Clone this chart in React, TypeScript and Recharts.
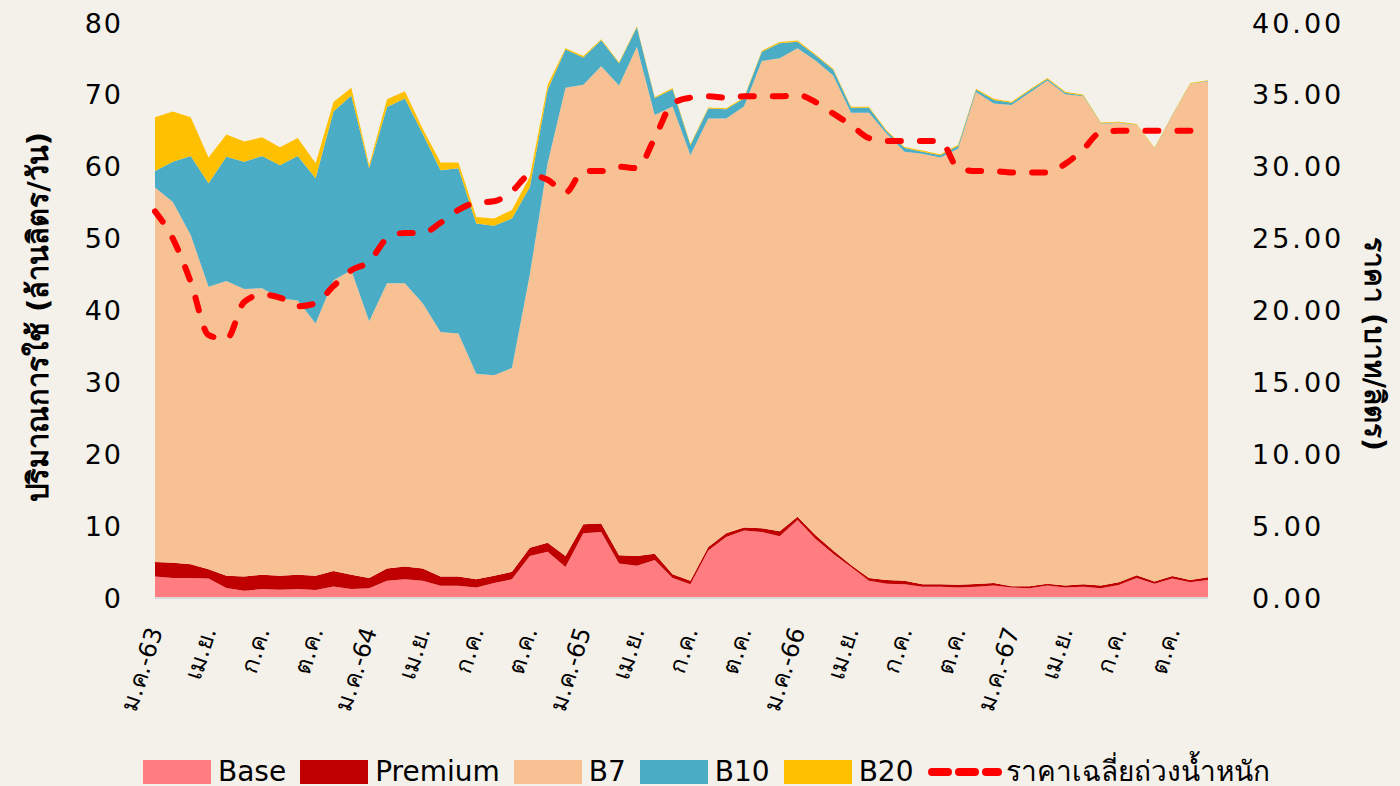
import { Area, ComposedChart, Line, XAxis, YAxis } from "recharts";

const MONTHS = ["ม.ค.", "ก.พ.", "มี.ค.", "เม.ย.", "พ.ค.", "มิ.ย.", "ก.ค.", "ส.ค.", "ก.ย.", "ต.ค.", "พ.ย.", "ธ.ค."];
const YEARS = ["63", "64", "65", "66", "67"];

// ล้านลิตร/วัน
const base = [
  3.0, 2.8, 2.8, 2.7, 1.4, 1.0, 1.25, 1.15, 1.25, 1.1,
  1.6, 1.25, 1.35, 2.4, 2.6, 2.4, 1.7, 1.7, 1.45, 2.1,
  2.6, 5.85, 6.45, 4.3, 9.0, 9.2, 4.8, 4.5, 5.3, 2.8,
  1.9, 6.6, 8.5, 9.4, 9.2, 8.6, 10.85, 8.25, 6.15, 4.3,
  2.4, 2.0, 1.9, 1.55, 1.55, 1.45, 1.55, 1.75, 1.45, 1.35,
  1.75, 1.45, 1.55, 1.35, 1.8, 2.8, 2.0, 2.7, 2.2, 2.5,
];
const premium = [
  2.0, 2.1, 1.9, 1.3, 1.7, 2.0, 2.0, 1.95, 2.0, 2.0,
  2.15, 2.0, 1.45, 1.7, 1.8, 1.7, 1.3, 1.3, 1.15, 1.0,
  1.05, 1.15, 1.25, 1.55, 1.25, 1.15, 1.15, 1.35, 0.85, 0.5,
  0.5, 0.5, 0.5, 0.4, 0.5, 0.7, 0.45, 0.5, 0.45, 0.3,
  0.4, 0.5, 0.5, 0.35, 0.35, 0.4, 0.4, 0.35, 0.2, 0.3,
  0.25, 0.3, 0.35, 0.4, 0.4, 0.35, 0.3, 0.35, 0.3, 0.4,
];
const b7 = [
  52.1, 50.2, 45.8, 39.3, 41.0, 40.0, 39.85, 38.6, 38.15, 35.1,
  40.45, 42.35, 35.7, 39.7, 39.4, 36.9, 34.0, 33.8, 28.6, 27.9,
  28.35, 38.0, 52.8, 65.15, 61.15, 63.65, 65.35, 70.85, 61.05, 65.1,
  59.2, 59.6, 57.7, 58.6, 65.0, 65.8, 65.2, 66.05, 66.1, 62.9,
  64.7, 62.1, 59.7, 59.9, 59.4, 60.65, 68.45, 66.7, 66.95, 68.65,
  70.0, 68.35, 67.9, 64.25, 63.9, 62.65, 60.2, 64.05, 69.0, 69.0,
];
const b10 = [
  2.3, 5.6, 11.0, 14.4, 17.3, 17.7, 18.4, 18.5, 20.1, 20.2,
  23.5, 24.3, 21.3, 24.5, 25.7, 23.6, 22.5, 23.0, 20.9, 20.8,
  20.8, 12.2, 10.2, 5.3, 3.8, 3.6, 3.1, 2.7, 2.35, 2.4,
  1.4, 1.4, 1.3, 1.1, 1.3, 2.1, 0.9, 0.7, 0.8, 0.7,
  0.7, 0.3, 0.5, 0.3, 0.3, 0.4, 0.3, 0.5, 0.3, 0.3,
  0.2, 0.2, 0.1, 0.05, 0.05, 0.05, 0.05, 0.05, 0.05, 0.05,
];
const b20 = [
  7.5, 7.0, 5.4, 3.6, 3.1, 2.8, 2.6, 2.5, 2.5, 2.1,
  1.3, 1.1, 0.4, 1.1, 1.0, 0.7, 1.1, 0.8, 0.9, 1.0,
  1.2, 1.4, 0.7, 0.2, 0.2, 0.15, 0.15, 0.15, 0.15, 0.15,
  0.15, 0.15, 0.15, 0.15, 0.15, 0.15, 0.15, 0.15, 0.15, 0.15,
  0.15, 0.15, 0.15, 0.15, 0.15, 0.15, 0.15, 0.15, 0.15, 0.15,
  0.15, 0.15, 0.15, 0.1, 0.1, 0.1, 0.1, 0.1, 0.1, 0.1,
];
// บาท/ลิตร
const price = [
  26.9, 25.0, 22.0, 18.3, 18.0, 20.6, 21.1, 20.9, 20.3, 20.5,
  21.7, 22.8, 23.4, 25.0, 25.4, 25.4, 26.1, 27.0, 27.5, 27.6,
  28.3, 29.4, 29.1, 28.2, 29.7, 29.7, 30.0, 29.9, 32.0, 34.4,
  34.8, 34.9, 34.8, 34.9, 34.9, 34.9, 35.0, 34.5, 33.7, 32.9,
  32.0, 31.8, 31.8, 31.8, 31.8, 29.9, 29.7, 29.7, 29.6, 29.6,
  29.6, 30.2, 31.2, 32.4, 32.5, 32.5, 32.5, 32.5, 32.5, 32.3,
];

const volumeTicks = [0, 10, 20, 30, 40, 50, 60, 70, 80];
const priceTicks = [0, 5, 10, 15, 20, 25, 30, 35, 40];

// unique keys per month, e.g. "ม.ค.-63", "ก.พ.-63"; the axis shows the year on January only
const categories = YEARS.flatMap((yy) => MONTHS.map((m) => `${m}-${yy}`));
const monthLabel = (key: string) => (key.startsWith("ม.ค.") ? key : key.split("-")[0]);

const data = categories.map((month, i) => ({
  month,
  base: base[i],
  premium: premium[i],
  b7: b7[i],
  b10: b10[i],
  b20: b20[i],
  price: price[i],
}));

const FONT = "'DejaVu Sans', 'Noto Sans', sans-serif";
const BG = "#f4f1ea";

const legendItems = [
  { name: "Base", color: "#ff7c80" },
  { name: "Premium", color: "#c00000" },
  { name: "B7", color: "#f8c193" },
  { name: "B10", color: "#4bacc6" },
  { name: "B20", color: "#ffc000" },
];

function MonthTick(props: { x?: number; y?: number; payload?: { value?: string } }) {
  const x = props.x ?? 0;
  const y = props.y ?? 0;
  return (
    <text
      x={x}
      y={y}
      dy="0.35em"
      textAnchor="end"
      transform={`rotate(-72 ${x} ${y})`}
      fontSize={24}
      fontFamily={FONT}
      fill="#000"
    >
      {monthLabel(props.payload?.value ?? "")}
    </text>
  );
}

function LeftTitle() {
  return (
    <text
      x={30}
      y={309}
      transform="rotate(-90 30 309)"
      textAnchor="middle"
      dominantBaseline="central"
      fontSize={29}
      fontWeight="bold"
      fontFamily={FONT}
      fill="#000"
    >
      ปริมาณการใช้ (ล้านลิตร/วัน)
    </text>
  );
}

function RightTitle() {
  return (
    <text
      x={1366}
      y={336}
      transform="rotate(90 1366 336)"
      textAnchor="middle"
      dominantBaseline="central"
      fontSize={28}
      fontWeight="bold"
      fontFamily={FONT}
      fill="#000"
    >
      ราคา (บาท/ลิตร)
    </text>
  );
}

export default function App() {
  return (
    <div style={{ position: "relative", width: 1384, height: 778, background: BG }}>
      <style>{`body{background:${BG};}`}</style>
      <ComposedChart width={1384} height={750} data={data} margin={{ top: 15, right: 0, bottom: 0, left: 0 }}>
        <XAxis
          dataKey="month"
          interval={2}
          height={160}
          tickLine={false}
          tickSize={0}
          tickMargin={30}
          axisLine={{ stroke: "#d9d9d9", strokeWidth: 2 }}
          tick={<MonthTick />}
        />
        <YAxis
          yAxisId="left"
          width={147}
          domain={[0, 80]}
          ticks={volumeTicks}
          tickLine={false}
          axisLine={false}
          tickSize={0}
          tickMargin={32}
          tick={{ fontSize: 27, fill: "#000", fontFamily: FONT, letterSpacing: 2 }}
          label={<LeftTitle />}
        />
        <YAxis
          yAxisId="right"
          orientation="right"
          width={184}
          domain={[0, 40]}
          ticks={priceTicks}
          tickFormatter={(v: number) => v.toFixed(2)}
          tickLine={false}
          axisLine={false}
          tickSize={0}
          tickMargin={44}
          tick={{ fontSize: 27, fill: "#000", fontFamily: FONT, letterSpacing: 3, textAnchor: "start" }}
          label={<RightTitle />}
        />
        <Area yAxisId="left" type="linear" dataKey="base" stackId="v" stroke="none" fill="#ff7c80" fillOpacity={1} isAnimationActive={false} />
        <Area yAxisId="left" type="linear" dataKey="premium" stackId="v" stroke="none" fill="#c00000" fillOpacity={1} isAnimationActive={false} />
        <Area yAxisId="left" type="linear" dataKey="b7" stackId="v" stroke="none" fill="#f8c193" fillOpacity={1} isAnimationActive={false} />
        <Area yAxisId="left" type="linear" dataKey="b10" stackId="v" stroke="none" fill="#4bacc6" fillOpacity={1} isAnimationActive={false} />
        <Area yAxisId="left" type="linear" dataKey="b20" stackId="v" stroke="none" fill="#ffc000" fillOpacity={1} isAnimationActive={false} />
        <Line
          yAxisId="right"
          type="monotone"
          dataKey="price"
          stroke="#ff0000"
          strokeWidth={6}
          strokeDasharray="13 19"
          strokeLinecap="round"
          dot={false}
          isAnimationActive={false}
        />
      </ComposedChart>
      <div
        style={{
          position: "absolute",
          left: 135,
          top: 750,
          display: "flex",
          alignItems: "center",
          fontFamily: FONT,
          fontSize: 28,
          lineHeight: "28px",
          color: "#000",
          height: 28,
        }}
      >
        {legendItems.map((item) => (
          <div key={item.name} style={{ display: "flex", alignItems: "center", marginRight: 14 }}>
            <div style={{ width: 68, height: 24, background: item.color, marginRight: 7 }} />
            <span>{item.name}</span>
          </div>
        ))}
        <div style={{ display: "flex", alignItems: "center" }}>
          <svg width={74} height={24} style={{ marginRight: 4 }}>
            <line x1={4} y1={12} x2={70} y2={12} stroke="#ff0000" strokeWidth={8} strokeDasharray="16 11" strokeLinecap="round" />
          </svg>
          <span>ราคาเฉลี่ยถ่วงน้ำหนัก</span>
        </div>
      </div>
    </div>
  );
}
